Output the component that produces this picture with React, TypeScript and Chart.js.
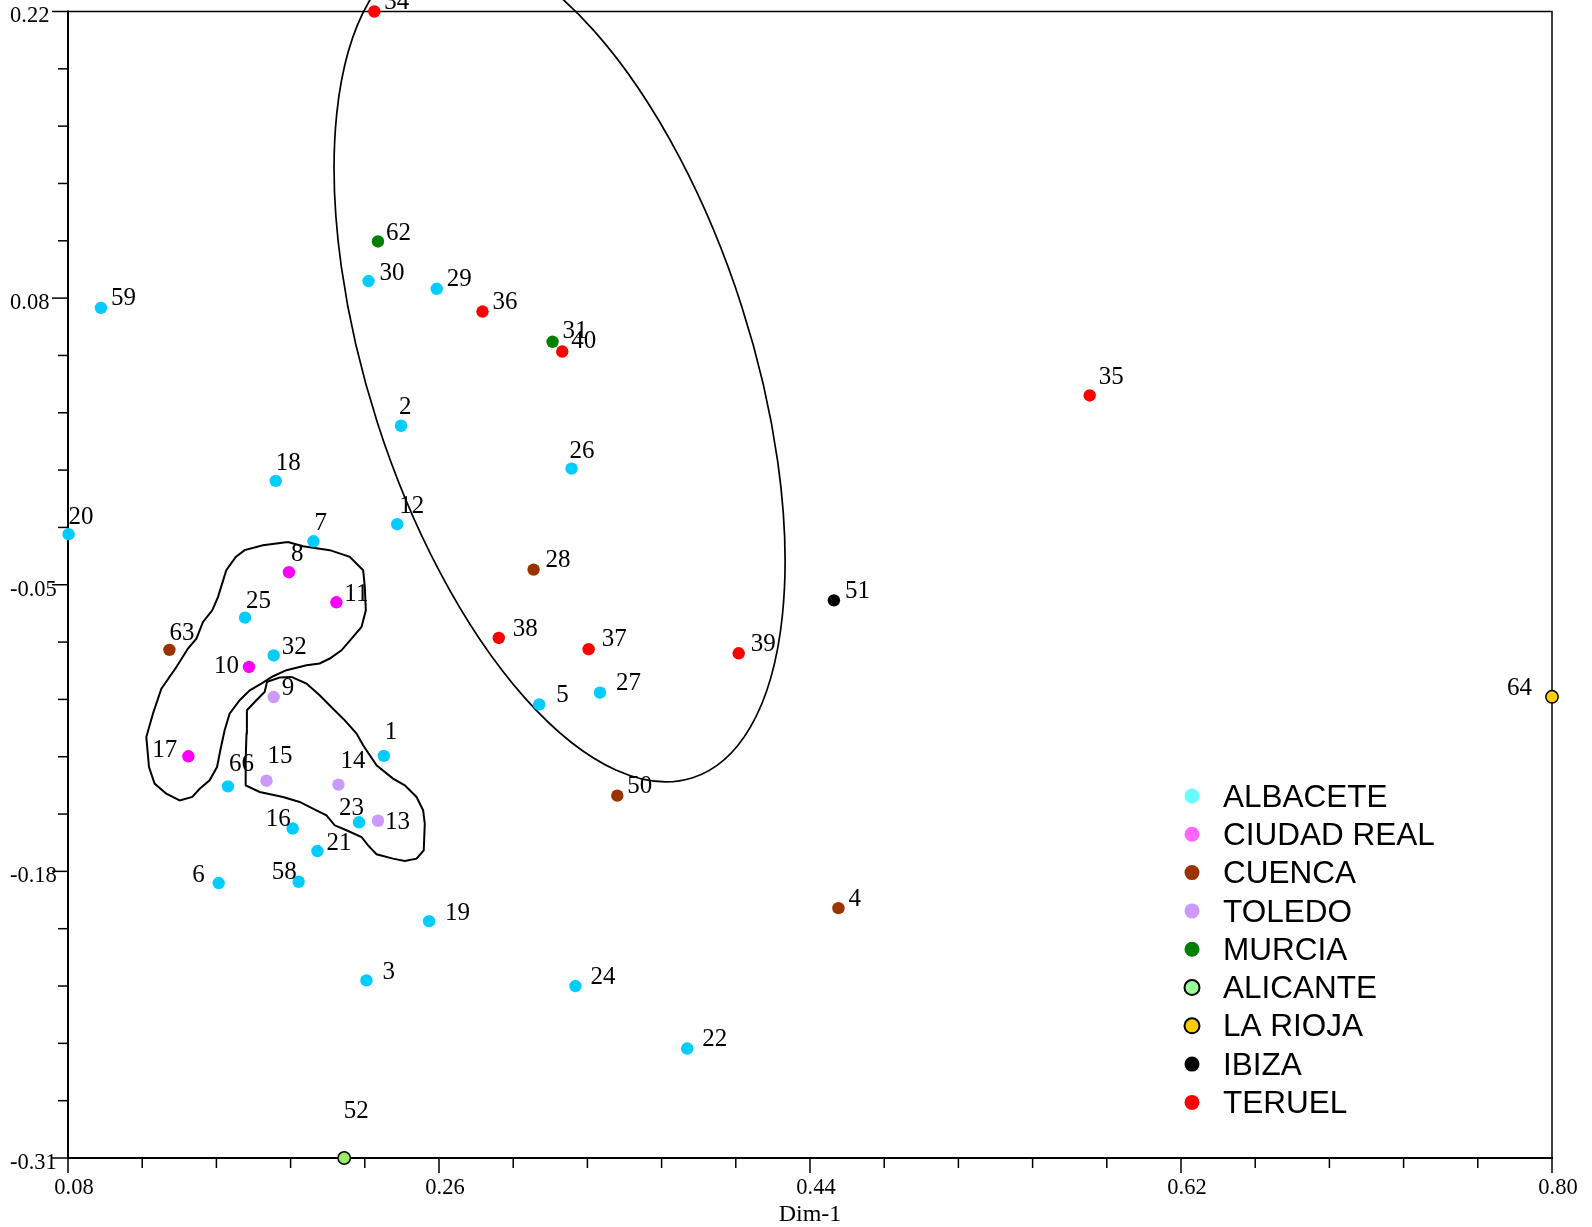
import { useEffect, useRef } from 'react';
import { Chart, registerables } from 'chart.js';

Chart.register(...registerables);

// ---- axis definitions ----
const xTickValues = [0.08, 0.26, 0.44, 0.62, 0.8];
const xTickLabels = ['0.08', '0.26', '0.44', '0.62', '0.80'];
const yTickValues = [-0.31, -0.1775, -0.045, 0.0875, 0.22];
const yTickLabels = ['-0.31', '-0.18', '-0.05', '0.08', '0.22'];
const xAxisTitle = 'Dim-1';

// ---- observations per province: [id, Dim-1, Dim-2] ----
type Obs = [string, number, number];

const albacete: Obs[] = [
  ['1', 0.2332, -0.1241], ['2', 0.2416, 0.0285], ['3', 0.2248, -0.2279],
  ['5', 0.3086, -0.1003], ['6', 0.1531, -0.1829], ['7', 0.1991, -0.0249],
  ['12', 0.2397, -0.017], ['16', 0.189, -0.1577], ['18', 0.1808, 0.003],
  ['19', 0.2552, -0.2005], ['20', 0.0803, -0.0216], ['21', 0.201, -0.1681],
  ['22', 0.3804, -0.2594], ['23', 0.2212, -0.1548], ['24', 0.3262, -0.2305],
  ['25', 0.1659, -0.0602], ['26', 0.3243, 0.0087], ['27', 0.3381, -0.0949],
  ['29', 0.2589, 0.0918], ['30', 0.2258, 0.0954], ['32', 0.1798, -0.0777],
  ['58', 0.1919, -0.1823], ['59', 0.096, 0.083], ['66', 0.1576, -0.1382],
];
const ciudadReal: Obs[] = [
  ['8', 0.1872, -0.0392], ['10', 0.1678, -0.083], ['11', 0.2102, -0.0531], ['17', 0.1384, -0.1243],
];
const cuenca: Obs[] = [
  ['4', 0.4538, -0.1945], ['28', 0.3059, -0.038], ['50', 0.3465, -0.1425], ['63', 0.1292, -0.0751],
];
const toledo: Obs[] = [
  ['9', 0.1798, -0.0969], ['13', 0.2304, -0.1541], ['14', 0.2112, -0.1374], ['15', 0.1763, -0.1356],
];
const murcia: Obs[] = [['31', 0.3151, 0.0673], ['62', 0.2304, 0.1137]];
const alicante: Obs[] = [['52', 0.214, -0.31]];
const laRioja: Obs[] = [['64', 0.8, -0.0968]];
const ibiza: Obs[] = [['51', 0.4516, -0.0522]];
const teruel: Obs[] = [
  ['34', 0.2286, 0.22], ['35', 0.5757, 0.0425], ['36', 0.2811, 0.0813], ['37', 0.3326, -0.0748],
  ['38', 0.289, -0.0696], ['39', 0.4054, -0.0767], ['40', 0.3198, 0.0628],
];

const regionNames = ['ALBACETE', 'CIUDAD REAL', 'CUENCA', 'TOLEDO', 'MURCIA', 'ALICANTE', 'LA RIOJA', 'IBIZA', 'TERUEL'];
const regionData = [albacete, ciudadReal, cuenca, toledo, murcia, alicante, laRioja, ibiza, teruel];

// marker styling
const pointColors = ['#00CCFF', '#FF00FF', '#993300', '#CC99FF', '#008000', '#99EE66', '#FFCC00', '#000000', '#FF0000'];
const legendColors = ['#66FFFF', '#FF66FF', '#993300', '#CC99FF', '#008000', '#99FF99', '#FFCC00', '#000000', '#FF0000'];
const outlined = [false, false, false, false, false, true, true, false, false];

// ---- group outlines (Dim-1, Dim-2 vertices) ----
const outlineNorth: [number, number][] = [
  [0.1867, -0.0252], [0.194, -0.0272], [0.207, -0.029], [0.2167, -0.0321], [0.2232, -0.0383],
  [0.224, -0.046], [0.2245, -0.0568], [0.2224, -0.0645], [0.2183, -0.0691], [0.2127, -0.0753],
  [0.207, -0.0791], [0.2021, -0.0814], [0.1957, -0.0822], [0.186, -0.0845], [0.1795, -0.0873],
  [0.1738, -0.0907], [0.1682, -0.0938], [0.1633, -0.0984], [0.1584, -0.1046], [0.156, -0.1123],
  [0.1539, -0.1215], [0.1523, -0.1293], [0.1487, -0.1354], [0.1439, -0.1393], [0.1403, -0.1431],
  [0.1342, -0.1447], [0.1277, -0.1416], [0.122, -0.1369], [0.1193, -0.1293], [0.118, -0.1154],
  [0.1212, -0.1046], [0.1253, -0.093], [0.1326, -0.083], [0.1382, -0.0745], [0.1423, -0.0699],
  [0.1455, -0.0622], [0.15, -0.0568], [0.1528, -0.0506], [0.1568, -0.0383], [0.1614, -0.0321],
  [0.1657, -0.029], [0.1746, -0.0267], [0.1867, -0.0252],
];
const outlineSouth: [number, number][] = [
  [0.1884, -0.0876], [0.1957, -0.0907], [0.2021, -0.0961], [0.2086, -0.1023], [0.2143, -0.1077],
  [0.22, -0.1138], [0.2232, -0.1192], [0.2297, -0.1285], [0.2377, -0.1346], [0.2434, -0.1377],
  [0.2491, -0.1431], [0.2523, -0.1493], [0.2531, -0.1554], [0.2526, -0.1678], [0.2491, -0.1716],
  [0.2434, -0.1727], [0.2377, -0.1716], [0.2297, -0.1696], [0.2256, -0.1655], [0.2224, -0.1616],
  [0.2151, -0.1585], [0.2094, -0.1562], [0.2054, -0.1516], [0.2005, -0.1493], [0.1924, -0.1454],
  [0.1843, -0.1431], [0.173, -0.1408], [0.1662, -0.1377], [0.1662, -0.1262], [0.1666, -0.1138],
  [0.1668, -0.103], [0.1714, -0.0984], [0.1754, -0.0946], [0.1766, -0.0899], [0.1827, -0.0879],
  [0.1884, -0.0876],
];

// Teruel group ellipse: centre and the two semi-axis vectors, in data units
const ellipseCenter = [0.3185, 0.0568];
const ellipseAxisMajor = [0.0646, -0.191];
const ellipseAxisMinor = [-0.0883, -0.0271];

// label placement: [dx, dy, align] in pixels relative to the marker
type Place = [number, number, CanvasTextAlign];
const defaultPlace: Place = [10, -9, 'left'];
const labelPlace: Record<string, Place> = {
  '1': [1, -23, 'left'], '2': [-2, -18, 'left'], '3': [16, -8, 'left'], '5': [17, -9, 'left'],
  '6': [-14, -8, 'right'], '7': [1, -18, 'left'], '8': [2, -18, 'left'], '9': [8, -9, 'left'],
  '10': [-10, -1, 'right'], '11': [8, -8, 'left'], '12': [2, -18, 'left'], '13': [7, 2, 'left'],
  '14': [2, -23, 'left'], '15': [1, -24, 'left'], '16': [-2, -9, 'right'], '17': [-11, -6, 'right'],
  '18': [0, -17, 'left'], '19': [16, -8, 'left'], '20': [0, -17, 'left'], '21': [9, -8, 'left'],
  '22': [15, -9, 'left'], '23': [-20, -14, 'left'], '24': [15, -9, 'left'], '25': [1, -16, 'left'],
  '26': [-2, -17, 'left'], '27': [16, -9, 'left'], '28': [12, -9, 'left'], '30': [11, -8, 'left'],
  '31': [10, -10, 'left'], '32': [8, -8, 'left'], '35': [9, -18, 'left'], '37': [13, -10, 'left'],
  '38': [14, -9, 'left'], '39': [12, -9, 'left'], '40': [9, -10, 'left'], '51': [11, -9, 'left'],
  '52': [12, -47, 'center'], '58': [-2, -9, 'right'], '62': [8, -8, 'left'], '63': [0, -16, 'left'],
  '64': [-20, -8, 'right'], '66': [1, -22, 'left'],
};

const serif = '"Liberation Serif", "Times New Roman", serif';
const sans = '"Liberation Sans", Arial, sans-serif';

// frame, outward tick marks and the ellipse
const framePlugin = {
  id: 'frame',
  beforeDatasetsDraw(chart: any) {
    const { ctx, chartArea: a, scales } = chart;
    const xs = scales.x;
    const ys = scales.y;
    ctx.save();
    ctx.strokeStyle = '#000';
    ctx.lineWidth = 1.5;
    ctx.beginPath();
    ctx.moveTo(a.left, a.top);
    ctx.lineTo(a.right, a.top);
    ctx.lineTo(a.right, a.bottom);
    ctx.stroke();
    ctx.lineWidth = 2;
    ctx.beginPath();
    ctx.moveTo(a.left, a.top - 1);
    ctx.lineTo(a.left, a.bottom);
    ctx.lineTo(a.right + 1, a.bottom);
    ctx.stroke();

    ctx.lineWidth = 1.5;
    const xMin = xTickValues[0];
    const xStep = (xTickValues[1] - xTickValues[0]) / 5;
    for (let i = 0; i <= 20; i++) {
      const px = xs.getPixelForValue(xMin + i * xStep);
      const len = i % 5 === 0 ? 15 : 10;
      ctx.beginPath();
      ctx.moveTo(px, a.bottom);
      ctx.lineTo(px, a.bottom + len);
      ctx.stroke();
    }
    const yMin = yTickValues[0];
    const yStep = (yTickValues[1] - yTickValues[0]) / 5;
    for (let i = 0; i <= 20; i++) {
      const py = ys.getPixelForValue(yMin + i * yStep);
      const len = i % 5 === 0 ? 16 : 10;
      ctx.beginPath();
      ctx.moveTo(a.left - len, py);
      ctx.lineTo(a.left, py);
      ctx.stroke();
    }

    // ellipse as the image of a unit circle under the scales' mapping
    const cx = xs.getPixelForValue(ellipseCenter[0]);
    const cy = ys.getPixelForValue(ellipseCenter[1]);
    const ax = xs.getPixelForValue(ellipseCenter[0] + ellipseAxisMajor[0]) - cx;
    const ay = ys.getPixelForValue(ellipseCenter[1] + ellipseAxisMajor[1]) - cy;
    const bx = xs.getPixelForValue(ellipseCenter[0] + ellipseAxisMinor[0]) - cx;
    const by = ys.getPixelForValue(ellipseCenter[1] + ellipseAxisMinor[1]) - cy;
    ctx.beginPath();
    ctx.save();
    ctx.transform(ax, ay, bx, by, cx, cy);
    ctx.arc(0, 0, 1, 0, Math.PI * 2);
    ctx.restore();
    ctx.lineWidth = 1.7;
    ctx.stroke();
    ctx.restore();
  },
};

// numeric labels next to each marker
const labelPlugin = {
  id: 'pointLabels',
  afterDatasetsDraw(chart: any) {
    const { ctx } = chart;
    ctx.save();
    ctx.font = `25px ${serif}`;
    ctx.fillStyle = '#000';
    ctx.textBaseline = 'middle';
    regionData.forEach((group, di) => {
      const meta = chart.getDatasetMeta(di);
      group.forEach(([id], j) => {
        const el = meta.data[j];
        if (!el) return;
        const [dx, dy, align] = labelPlace[id] || defaultPlace;
        ctx.textAlign = align;
        ctx.fillText(id, el.x + dx, el.y + dy);
      });
    });
    ctx.restore();
  },
};

// province key in the lower right
const legendPlugin = {
  id: 'provinceKey',
  afterDraw(chart: any) {
    const { ctx } = chart;
    ctx.save();
    ctx.font = `31.5px ${sans}`;
    ctx.textBaseline = 'middle';
    ctx.textAlign = 'left';
    regionNames.forEach((name, i) => {
      const y = 797 + i * 38.3;
      ctx.beginPath();
      ctx.arc(1192, y - 1, 7.5, 0, Math.PI * 2);
      ctx.fillStyle = legendColors[i];
      ctx.fill();
      if (outlined[i]) {
        ctx.lineWidth = 2;
        ctx.strokeStyle = '#000';
        ctx.stroke();
      }
      ctx.fillStyle = '#000';
      ctx.fillText(name, 1223, y + 1);
    });
    ctx.restore();
  },
};

export default function App() {
  const canvasRef = useRef<HTMLCanvasElement | null>(null);

  useEffect(() => {
    if (!canvasRef.current) return;

    const pointSets = regionData.map((group, i) => ({
      label: regionNames[i],
      data: group.map(([, x, y]) => ({ x, y })),
      backgroundColor: pointColors[i],
      borderColor: outlined[i] ? '#000' : pointColors[i],
      borderWidth: outlined[i] ? 1.5 : 0,
      pointRadius: 6.2,
      pointHoverRadius: 6.2,
      showLine: false,
      clip: false as any,
      order: 0,
    }));
    const outlineSets = [outlineNorth, outlineSouth].map((poly, i) => ({
      label: `outline-${i}`,
      data: poly.map(([x, y]) => ({ x, y })),
      showLine: true,
      borderColor: '#000',
      borderWidth: 2,
      pointRadius: 0,
      tension: 0,
      fill: false,
      clip: false as any,
      order: 1,
    }));

    const chart = new Chart(canvasRef.current, {
      type: 'scatter',
      data: { datasets: [...pointSets, ...outlineSets] as any },
      options: {
        animation: false,
        responsive: false,
        maintainAspectRatio: false,
        events: [],
        layout: { padding: { left: 10, top: 11.5, right: 40, bottom: 0 } },
        plugins: {
          legend: { display: false },
          tooltip: { enabled: false },
        },
        scales: {
          x: {
            type: 'linear',
            min: 0.08,
            max: 0.8,
            afterBuildTicks: (s: any) => {
              s.ticks = xTickValues.map((v) => ({ value: v }));
            },
            afterFit: (s: any) => {
              s.height = 69;
            },
            grid: { display: false, drawTicks: false },
            border: { display: false },
            ticks: {
              autoSkip: false,
              maxRotation: 0,
              padding: 17,
              labelOffset: 6,
              color: '#000',
              font: { family: serif, size: 22.5 },
              callback: (v: any) => xTickLabels[xTickValues.indexOf(v)],
            },
            title: {
              display: true,
              text: xAxisTitle,
              color: '#000',
              font: { family: serif, size: 24, lineHeight: 1 },
              padding: 0,
            },
          },
          y: {
            type: 'linear',
            min: -0.31,
            max: 0.22,
            afterBuildTicks: (s: any) => {
              s.ticks = yTickValues.map((v) => ({ value: v }));
            },
            afterFit: (s: any) => {
              s.width = 58;
            },
            grid: { display: false, drawTicks: false },
            border: { display: false },
            ticks: {
              autoSkip: false,
              crossAlign: 'far',
              padding: 0,
              labelOffset: 5,
              color: '#000',
              font: { family: serif, size: 22.5, lineHeight: 1 },
              callback: (v: any) => yTickLabels[yTickValues.indexOf(v)],
            },
          },
        },
      },
      plugins: [framePlugin, labelPlugin, legendPlugin],
    });

    return () => chart.destroy();
  }, []);

  return (
    <div style={{ position: 'fixed', left: 0, top: 0, width: 1592, height: 1227, background: '#fff' }}>
      <canvas ref={canvasRef} width={1592} height={1227} style={{ display: 'block' }} />
    </div>
  );
}
